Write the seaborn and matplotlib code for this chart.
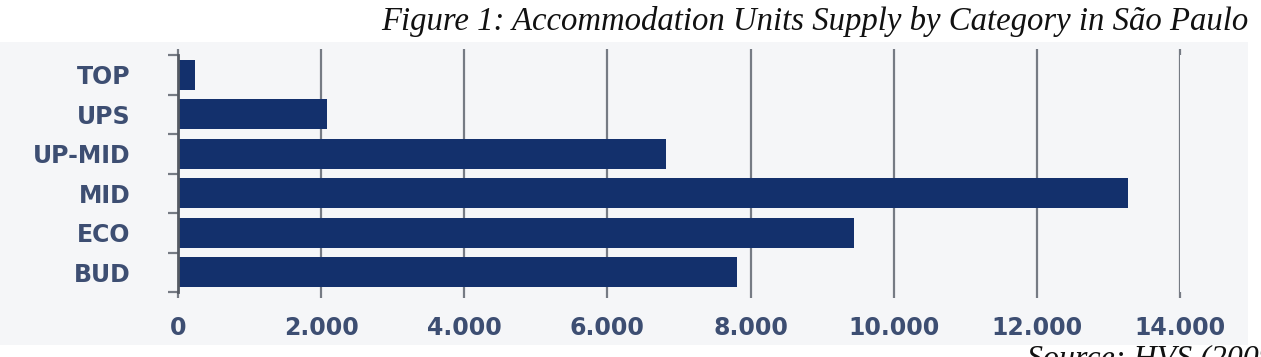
import matplotlib
matplotlib.use("Agg")
import matplotlib.pyplot as plt
import matplotlib.patches as mpatches
import seaborn as sns
import numpy as np
from matplotlib.ticker import FixedLocator, FuncFormatter

categories = ['TOP', 'UPS', 'UP-MID', 'MID', 'ECO', 'BUD']
units = [240, 2080, 6820, 13270, 9440, 7810]
xticks = [0, 2000, 4000, 6000, 8000, 10000, 12000, 14000]

bar_color = '#13306c'
label_color = '#3d4e72'
grid_color = '#767b84'
panel_color = '#f5f6f8'

sns.set_style('white')
plt.rcParams['font.family'] = ['DejaVu Sans']

W, H = 1261, 357
fig = plt.figure(figsize=(W / 100, H / 100), dpi=100)
fig.patch.set_facecolor('white')

# light grey panel behind the chart
fig.patches.append(mpatches.Rectangle((0, 1 - 345 / H), 1248 / W, (345 - 42) / H,
                                      transform=fig.transFigure, facecolor=panel_color,
                                      edgecolor='none', zorder=-5))

ax = fig.add_axes([178 / W, 1 - 292 / H, (1180 - 178) / W, (292 - 55) / H])
ax.set_facecolor('none')
ax.set_zorder(2)

sns.barplot(x=units, y=categories, color=bar_color, width=0.75, saturation=1,
            linewidth=0, ax=ax, zorder=3)

ax.set_xlim(0, 14000)
ax.set_ylim(5.5, -0.5)
ax.set_xticks(xticks)
ax.xaxis.set_major_formatter(FuncFormatter(lambda v, p: f"{int(v):,}".replace(',', '.')))
ax.grid(axis='x', color=grid_color, linewidth=1.6, zorder=1)
ax.set_axisbelow(True)
ax.set_xlabel('')
ax.set_ylabel('')

for s in ['top', 'right', 'bottom']:
    ax.spines[s].set_visible(False)
ax.spines['left'].set_color('#555a63')
ax.spines['left'].set_linewidth(2)
ax.spines['left'].set_zorder(4)

ax.tick_params(axis='x', which='major', bottom=True, top=True, length=4, width=1.6,
               color=grid_color, pad=13, labelsize=17, labelcolor=label_color)
ax.tick_params(axis='y', which='major', left=False, length=0, pad=34,
               labelsize=17, labelcolor=label_color)
ax.yaxis.set_minor_locator(FixedLocator(np.arange(-0.5, 6.0, 1.0)))
ax.tick_params(axis='y', which='minor', left=True, length=7, width=1.6, color=grid_color)
for lab in ax.get_xticklabels() + ax.get_yticklabels():
    lab.set_fontweight('bold')

serif = ['Liberation Serif', 'DejaVu Serif']
fig.text(381 / W, 1 - 30 / H, 'Figure 1: Accommodation Units Supply by Category in São Paulo',
         family=serif, style='italic', fontsize=23.6,
         ha='left', va='baseline', color='#111111')
fig.text(1027 / W, 1 - 366 / H, 'Source: HVS (2009)',
         family=serif, style='italic', fontsize=23,
         ha='left', va='baseline', color='#111111')

fig.savefig('out.png', dpi=100)
